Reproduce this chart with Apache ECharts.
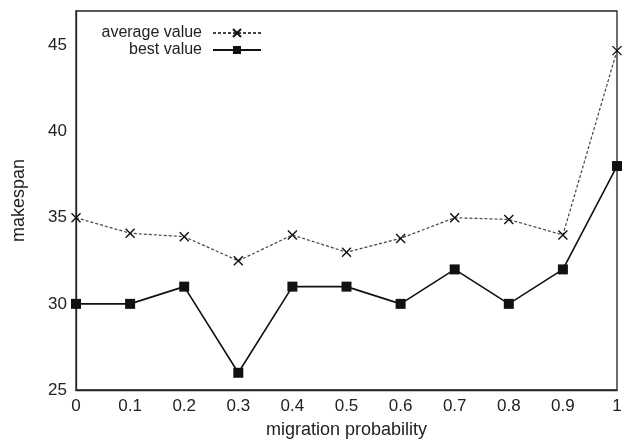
<!DOCTYPE html>
<html>
<head>
<meta charset="utf-8">
<style>
  html, body { margin: 0; height: 100%; background: #fff; }
  #main { width: 630px; height: 444px; }
</style>
<script src="https://cdn.jsdelivr.net/npm/echarts@6/dist/echarts.min.js"></script>
</head>
<body>
<div id="main"></div>
<script>
// migration probability vs makespan
var probs = [0, 0.1, 0.2, 0.3, 0.4, 0.5, 0.6, 0.7, 0.8, 0.9, 1];
var avgValues = [35, 34.1, 33.9, 32.5, 34.0, 33.0, 33.8, 35.0, 34.9, 34.0, 44.7];
var bestValues = [30, 30, 31, 26, 31, 31, 30, 32, 30, 32, 38];

var crossPath = 'path://M0,0L10,10M10,0L0,10';
var font = 'Liberation Sans, Arial, Helvetica, sans-serif';

function pairs(xs, ys) {
  return xs.map(function (x, i) { return [x, ys[i]]; });
}

var chart = echarts.init(document.getElementById('main'));
chart.setOption({
  animation: false,
  textStyle: { fontFamily: font },
  grid: {
    left: 76, right: 13, top: 11, bottom: 52,
    show: true, borderColor: '#222', borderWidth: 1.3
  },
  legend: [
    {
      data: ['average value'], right: 363, top: 20, align: 'right',
      itemWidth: 48, itemHeight: 10,
      textStyle: { fontSize: 16, color: '#222', fontFamily: font, padding: [0, 6, 0, 0] }
    },
    {
      data: ['best value'], right: 363, top: 37, align: 'right',
      itemWidth: 48, itemHeight: 10,
      textStyle: { fontSize: 16, color: '#222', fontFamily: font, padding: [0, 6, 0, 0] }
    }
  ],
  xAxis: {
    type: 'value', min: 0, max: 1, interval: 0.1,
    name: 'migration probability', nameLocation: 'middle', nameGap: 31,
    nameTextStyle: { fontSize: 18, color: '#222' },
    axisLine: { lineStyle: { color: '#222', width: 1.3 } },
    axisTick: { show: false },
    splitLine: { show: false },
    axisLabel: {
      fontSize: 17, color: '#222', margin: 8,
      formatter: function (v) { return String(Math.round(v * 10) / 10); }
    }
  },
  yAxis: {
    type: 'value', min: 25, max: 47, interval: 5,
    name: 'makespan', nameLocation: 'middle', nameGap: 48,
    nameTextStyle: { fontSize: 18, color: '#222' },
    axisLine: { show: true, lineStyle: { color: '#222', width: 1.3 } },
    axisTick: { show: false },
    splitLine: { show: false },
    axisLabel: {
      fontSize: 17, color: '#222', margin: 9,
      formatter: function (v) { return v % 5 === 0 ? String(v) : ''; }
    }
  },
  series: [
    {
      name: 'average value', type: 'line',
      data: pairs(probs, avgValues),
      symbol: crossPath, symbolSize: 9,
      itemStyle: { color: 'rgba(0,0,0,0)', borderColor: '#111', borderWidth: 1.4 },
      lineStyle: { color: '#444', width: 1.2, type: [3, 2] }
    },
    {
      name: 'best value', type: 'line',
      data: pairs(probs, bestValues),
      symbol: 'rect', symbolSize: 10,
      itemStyle: { color: '#111' },
      lineStyle: { color: '#111', width: 1.6 }
    }
  ]
});
</script>
</body>
</html>
